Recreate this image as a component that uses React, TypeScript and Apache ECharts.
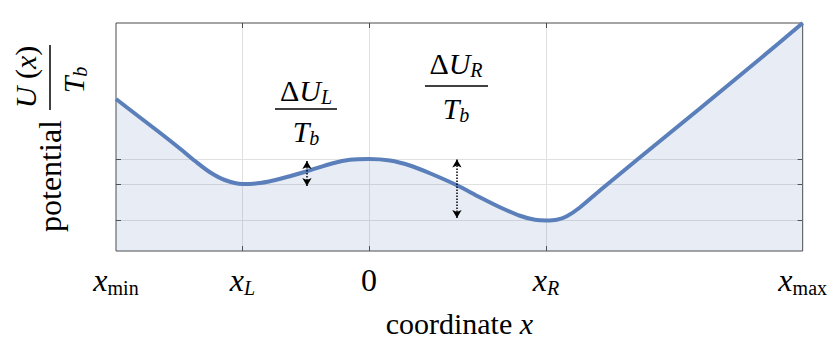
import React, { useEffect, useRef } from 'react';
import * as echarts from 'echarts';

const SERIF = "'Liberation Serif', 'Times New Roman', serif";

// potential curve U(x)/T_b
const curveX = [-2.0, -1.81, -1.65, -1.49, -1.375, -1.26, -1.14, -1.0, -0.86, -0.7, -0.49, -0.285, -0.15, 0, 0.166, 0.324, 0.482, 0.696, 0.877, 1.036, 1.194, 1.312, 1.4, 1.486, 1.565, 1.668, 1.826, 2.142, 2.617, 3.091, 3.43];
const curveU = [3.04, 2.67, 2.36, 2.04, 1.8, 1.58, 1.42, 1.34, 1.36, 1.445, 1.595, 1.755, 1.825, 1.84, 1.81, 1.71, 1.555, 1.315, 1.075, 0.875, 0.705, 0.625, 0.61, 0.625, 0.695, 0.87, 1.21, 1.87, 2.85, 3.84, 4.56];

const xTickValues = [-2, -1, 0, 1.4, 3.43];
const xTickLabels = ['{i|x}{s|min}', '{i|x}{si|L}', '{u|0}', '{i|x}{si|R}', '{i|x}{s|max}'];
const xGridValues = [-1, 0, 1.4];
const yLevels = [0.61, 1.34, 1.84];
const arrowX = [-0.49, 0.696];
const arrowTop = [1.8, 1.83];
const arrowBottom = [1.3, 0.66];

const X_MIN = -2;
const X_MAX = 3.43;
const Y_MAX = 4.56;

const LINE_COLOR = '#5a7fba';
const GRID_COLOR = '#e0e0e0';
const FRAME = '#4a4a4a';

function richSet(size: number, sub: number) {
  const lh = size + 4;
  return {
    i: { fontFamily: SERIF, fontStyle: 'italic', fontSize: size, lineHeight: lh, color: '#000', fill: '#000' },
    u: { fontFamily: SERIF, fontSize: size, lineHeight: lh, color: '#000', fill: '#000' },
    s: { fontFamily: SERIF, fontSize: sub, lineHeight: sub, verticalAlign: 'bottom', color: '#000', fill: '#000' },
    si: { fontFamily: SERIF, fontStyle: 'italic', fontSize: sub, lineHeight: sub, verticalAlign: 'bottom', color: '#000', fill: '#000' },
  };
}

function txt(x: number, y: number, text: string, size: number, sub: number, rotation = 0) {
  return {
    type: 'text',
    x,
    y,
    rotation,
    silent: true,
    style: {
      text,
      rich: richSet(size, sub),
      fontFamily: SERIF,
      fontSize: size,
      fill: '#000',
      align: 'center',
      textAlign: 'center',
      verticalAlign: 'middle',
      textVerticalAlign: 'middle',
    },
  };
}

function hline(x1: number, x2: number, y: number) {
  return { type: 'line', silent: true, shape: { x1, y1: y, x2, y2: y }, style: { stroke: '#000', lineWidth: 1.5 } };
}
function vline(x: number, y1: number, y2: number) {
  return { type: 'line', silent: true, shape: { x1: x, y1, x2: x, y2 }, style: { stroke: '#000', lineWidth: 1.5 } };
}

export default function App() {
  const ref = useRef<HTMLDivElement>(null);
  useEffect(() => {
    const chart = echarts.init(ref.current!, null, { renderer: 'svg' });
    const tickRich = richSet(32, 20);
    const fmt = (v: number) => {
      const idx = xTickValues.findIndex((t) => Math.abs(t - v) < 1e-6);
      return idx >= 0 ? xTickLabels[idx] : '';
    };
    const option: any = {
      animation: false,
      backgroundColor: '#fff',
      grid: { left: 116, right: 27, top: 23, bottom: 104, show: true, borderColor: FRAME, borderWidth: 1, backgroundColor: 'transparent' },
      xAxis: [
        {
          type: 'value',
          min: X_MIN,
          max: X_MAX,
          position: 'bottom',
          axisLine: { show: false, onZero: false },
          axisTick: { show: true, inside: true, length: 5, customValues: xGridValues, lineStyle: { color: FRAME } },
          splitLine: { show: true, lineStyle: { color: GRID_COLOR, width: 1 } },
          axisLabel: { show: true, customValues: xTickValues, formatter: fmt, margin: 11, rich: tickRich, color: '#000', fontFamily: SERIF, fontSize: 32 },
          name: 'coordinate {i|x}',
          nameLocation: 'middle',
          nameGap: 55,
          nameTextStyle: { fontFamily: SERIF, fontSize: 30, lineHeight: 34, color: '#000', rich: { i: { fontFamily: SERIF, fontStyle: 'italic', fontSize: 30, lineHeight: 34, color: '#000' } } },
        },
        {
          type: 'value',
          min: X_MIN,
          max: X_MAX,
          position: 'top',
          axisLine: { show: false, onZero: false },
          axisTick: { show: true, inside: true, length: 5, customValues: xGridValues, lineStyle: { color: FRAME } },
          splitLine: { show: false },
          axisLabel: { show: false },
        },
      ],
      yAxis: [
        {
          type: 'value',
          min: 0,
          max: Y_MAX,
          position: 'left',
          axisLine: { show: false, onZero: false },
          axisTick: { show: true, inside: true, length: 5, customValues: yLevels, lineStyle: { color: FRAME } },
          splitLine: { show: true, lineStyle: { color: GRID_COLOR, width: 1 } },
          axisLabel: { show: false, customValues: yLevels },
        },
        {
          type: 'value',
          min: 0,
          max: Y_MAX,
          position: 'right',
          axisLine: { show: false, onZero: false },
          axisTick: { show: true, inside: true, length: 5, customValues: yLevels, lineStyle: { color: FRAME } },
          splitLine: { show: false },
          axisLabel: { show: false, customValues: yLevels },
        },
      ],
      series: [
        {
          type: 'line',
          xAxisIndex: 0,
          yAxisIndex: 0,
          data: curveX.map((x, i) => [x, curveU[i]]),
          showSymbol: false,
          smooth: 0.3,
          silent: true,
          lineStyle: { color: LINE_COLOR, width: 4 },
          areaStyle: { color: 'rgba(89,128,186,0.2)', origin: 'start' },
          markLine: {
            silent: true,
            symbol: ['arrow', 'arrow'],
            symbolSize: [7, 8],
            label: { show: false },
            lineStyle: { color: '#000', type: 'dotted', width: 1.5 },
            emphasis: { disabled: true },
            data: arrowX.map((x, i) => [{ coord: [x, arrowTop[i]] }, { coord: [x, arrowBottom[i]] }]),
          },
        },
      ],
      graphic: [
        // y-axis title: potential  U(x)/T_b  (rotated)
        txt(50, 176, 'potential', 32, 20, Math.PI / 2),
        vline(50, 45, 110),
        txt(25, 77, '{i|U} {u|(}{i|x}{u|)}', 30, 20, Math.PI / 2),
        txt(73, 80, '{i|T}{si|b}', 30, 20, Math.PI / 2),
        // ΔU_L / T_b
        txt(306, 90, '{u|Δ}{i|U}{si|L}', 30, 20),
        hline(275, 337, 109),
        txt(306, 131, '{i|T}{si|b}', 30, 20),
        // ΔU_R / T_b
        txt(456, 63, '{u|Δ}{i|U}{si|R}', 30, 20),
        hline(425, 488, 86),
        txt(456, 108, '{i|T}{si|b}', 30, 20),
      ],
    };
    chart.setOption(option);
    return () => chart.dispose();
  }, []);
  return <div ref={ref} style={{ position: 'absolute', left: 0, top: 0, width: 830, height: 355 }} />;
}
